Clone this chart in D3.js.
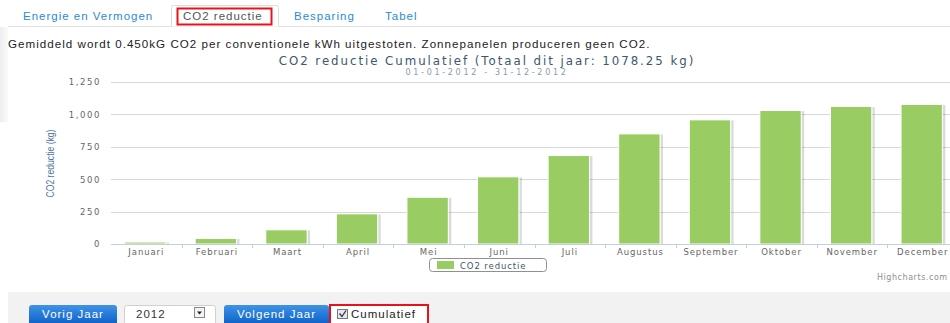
<!DOCTYPE html>
<html>
<head>
<meta charset="utf-8">
<script src="https://cdn.jsdelivr.net/npm/d3@7"></script>
<style>
  html, body { margin: 0; padding: 0; background: #fff; }
  svg { display: block; }
</style>
</head>
<body>
<svg id="page" width="950" height="323"></svg>
<script>
// Cumulative CO2 reduction per month, 2012 (kg)
const months = ["Januari", "Februari", "Maart", "April", "Mei", "Juni", "Juli",
                "Augustus", "September", "Oktober", "November", "December"];
const co2Cumulative = [19, 46, 113, 236, 364, 521, 685, 852, 960, 1032, 1063, 1078.25];
const yTicks = [0, 250, 500, 750, 1000, 1250];
const tabLabels = ["Energie en Vermogen", "CO2 reductie", "Besparing", "Tabel"];
const seriesName = "CO2 reductie";
const chartTitle = "CO2 reductie Cumulatief (Totaal dit jaar: 1078.25 kg)";
const chartSubtitle = "01-01-2012 - 31-12-2012";
const introText = "Gemiddeld wordt 0.450kG CO2 per conventionele kWh uitgestoten. Zonnepanelen produceren geen CO2.";
const selectedYear = "2012";

const svg = d3.select("#page");
const chartFont = "'DejaVu Sans', Verdana, sans-serif";
const uiFont = "'Liberation Sans', Arial, sans-serif";
const uiSpacing = 1.0;

// ---- defs: gradients for buttons and the panel edge
const defs = svg.append("defs");
const btnGrad = defs.append("linearGradient").attr("id", "btnGrad")
  .attr("x1", 0).attr("y1", 0).attr("x2", 0).attr("y2", 1);
btnGrad.append("stop").attr("offset", "0%").attr("stop-color", "#3f93e6");
btnGrad.append("stop").attr("offset", "100%").attr("stop-color", "#0b5fc6");
const sideGrad = defs.append("linearGradient").attr("id", "sideGrad")
  .attr("x1", 0).attr("y1", 0).attr("x2", 1).attr("y2", 0);
sideGrad.append("stop").attr("offset", "0%").attr("stop-color", "#ededed");
sideGrad.append("stop").attr("offset", "100%").attr("stop-color", "#fafafa");

// ---- tabs
const tabs = svg.append("g");
tabs.append("line").attr("x1", 8).attr("x2", 950).attr("y1", 26.5).attr("y2", 26.5)
  .attr("stroke", "#e2e2e2");
tabs.append("path")
  .attr("d", "M171.5,26.5 V7.5 Q171.5,5.5 173.5,5.5 H276.5 Q278.5,5.5 278.5,7.5 V26.5")
  .attr("fill", "#fff").attr("stroke", "#dcdcdc");
const tabX = [23, 183, 294, 385];
tabLabels.forEach((t, i) => {
  tabs.append("text").attr("x", tabX[i]).attr("y", 20)
    .attr("font-family", uiFont).attr("font-size", 11.5).attr("letter-spacing", uiSpacing)
    .attr("fill", i === 1 ? "#555" : "#2a8bd6").text(t);
});
tabs.append("rect").attr("x", 177.5).attr("y", 8.5).attr("width", 94).attr("height", 16)
  .attr("fill", "none").attr("stroke", "#e8121c").attr("stroke-width", 2);

// left panel edge
svg.append("rect").attr("x", 0).attr("y", 27).attr("width", 8).attr("height", 95)
  .attr("fill", "url(#sideGrad)");

// intro text
svg.append("text").attr("x", 8).attr("y", 48)
  .attr("font-family", uiFont).attr("font-size", 11.6).attr("letter-spacing", 1.02)
  .attr("fill", "#222").text(introText);

// ---- chart
const plot = { left: 111, right: 958, top: 81.7, bottom: 244 };

const x = d3.scaleBand().domain(months).range([plot.left, plot.right]).padding(0);
const y = d3.scaleLinear().domain([0, 1250]).range([plot.bottom, plot.top]);

const chart = svg.append("g");

// title + subtitle
chart.append("text").attr("x", 487).attr("y", 65).attr("text-anchor", "middle")
  .attr("font-family", chartFont).attr("font-size", 11.8).attr("letter-spacing", 1.95)
  .attr("fill", "#3e576f").text(chartTitle);
chart.append("text").attr("x", 487).attr("y", 75).attr("text-anchor", "middle")
  .attr("font-family", chartFont).attr("font-size", 8).attr("letter-spacing", 2.7)
  .attr("fill", "#8a9aab").text(chartSubtitle);

// grid lines
chart.append("g").selectAll("line").data(yTicks.filter(d => d > 0)).join("line")
  .attr("x1", plot.left).attr("x2", 950)
  .attr("y1", d => Math.round(y(d)) + 0.5).attr("y2", d => Math.round(y(d)) + 0.5)
  .attr("stroke", "#d8d8d8").attr("stroke-width", 1);

// y axis labels
const yAxis = d3.axisLeft(y).tickValues(yTicks).tickSize(0).tickPadding(0)
  .tickFormat(d3.format(","));
const yG = chart.append("g").attr("transform", `translate(${plot.left - 10},0)`).call(yAxis);
yG.select(".domain").remove();
yG.selectAll("text").attr("font-family", chartFont).attr("font-size", 8.5)
  .attr("letter-spacing", 1.6).attr("fill", "#666").attr("dy", "0.35em");

// y axis title (rotated)
chart.append("text")
  .attr("transform", `translate(54,${163.5}) rotate(-90)`)
  .attr("text-anchor", "middle")
  .attr("font-family", "'Liberation Sans Narrow', 'Liberation Sans', Arial, sans-serif")
  .attr("font-size", 11.5).attr("fill", "#4d759e")
  .attr("textLength", 68).attr("lengthAdjust", "spacingAndGlyphs")
  .text("CO2 reductie (kg)");

// bars with a soft shadow on the right
const barW = x.bandwidth() * 0.6;
const barX = d => x(d) + (x.bandwidth() - barW) / 2 - 1;
const bars = chart.append("g");
const rows = months.map((m, i) => ({ m, v: co2Cumulative[i] }));
bars.selectAll("rect.shadow").data(rows).join("rect").attr("class", "shadow")
  .attr("x", d => barX(d.m) + barW).attr("y", d => y(d.v) + 1)
  .attr("width", 2.5).attr("height", d => plot.bottom - y(d.v) - 1)
  .attr("fill", "#000").attr("opacity", 0.14);
bars.selectAll("rect.bar").data(rows).join("rect").attr("class", "bar")
  .attr("x", d => barX(d.m) + 0.5).attr("y", d => y(d.v) + 0.5)
  .attr("width", barW - 1).attr("height", d => plot.bottom - y(d.v) - 0.5)
  .attr("fill", "#99cc63").attr("stroke", "#fff").attr("stroke-width", 1);

// x axis
const xAxis = d3.axisBottom(x).tickSize(0).tickPadding(0);
const xG = chart.append("g").attr("transform", `translate(0,${plot.bottom})`).call(xAxis);
xG.select(".domain").remove();
xG.selectAll("text").attr("font-family", chartFont).attr("font-size", 8.5)
  .attr("letter-spacing", 0.9).attr("fill", "#666").attr("dy", "0").attr("y", 10.5);
chart.append("line").attr("x1", plot.left).attr("x2", 950)
  .attr("y1", plot.bottom + 0.5).attr("y2", plot.bottom + 0.5)
  .attr("stroke", "#c0d0e0").attr("stroke-width", 1);
chart.append("g").selectAll("line").data(months.slice(1)).join("line")
  .attr("x1", d => Math.round(x(d)) + 0.5).attr("x2", d => Math.round(x(d)) + 0.5)
  .attr("y1", plot.bottom).attr("y2", plot.bottom + 4)
  .attr("stroke", "#c0d0e0");

// legend
const legend = chart.append("g");
legend.append("rect").attr("x", 429.5).attr("y", 258.5).attr("width", 117).attr("height", 13)
  .attr("rx", 3).attr("fill", "#fff").attr("stroke", "#909090");
legend.append("rect").attr("x", 437).attr("y", 261).attr("width", 17).attr("height", 8)
  .attr("fill", "#99cc63");
legend.append("text").attr("x", 460).attr("y", 268.5)
  .attr("font-family", chartFont).attr("font-size", 8.5).attr("letter-spacing", 0.9)
  .attr("fill", "#3e576f").text(seriesName);

// credits
chart.append("text").attr("x", 877).attr("y", 280)
  .attr("font-family", chartFont).attr("font-size", 8).attr("letter-spacing", 0.55)
  .attr("fill", "#909090").text("Highcharts.com");

// ---- control bar
const ctrl = svg.append("g");
ctrl.append("rect").attr("x", 8).attr("y", 292).attr("width", 942).attr("height", 31)
  .attr("fill", "#f2f2f2");

function button(x0, x1, label) {
  ctrl.append("rect").attr("x", x0).attr("y", 305).attr("width", x1 - x0).attr("height", 20)
    .attr("rx", 3).attr("fill", "url(#btnGrad)");
  ctrl.append("text").attr("x", (x0 + x1) / 2).attr("y", 317.5).attr("text-anchor", "middle")
    .attr("font-family", uiFont).attr("font-size", 11.5).attr("letter-spacing", uiSpacing)
    .attr("fill", "#fff").text(label);
}
button(29, 117, "Vorig Jaar");
button(224, 329, "Volgend Jaar");

// year select
ctrl.append("rect").attr("x", 124.5).attr("y", 305.5).attr("width", 91).attr("height", 19)
  .attr("rx", 2).attr("fill", "#fff").attr("stroke", "#d0d0d0");
ctrl.append("text").attr("x", 136).attr("y", 317.5)
  .attr("font-family", uiFont).attr("font-size", 11.5).attr("letter-spacing", uiSpacing)
  .attr("fill", "#333").text(selectedYear);
ctrl.append("rect").attr("x", 194.5).attr("y", 307.5).attr("width", 10).attr("height", 10)
  .attr("fill", "#f4f4f4").attr("stroke", "#888");
ctrl.append("path").attr("d", "M197,311.5 h5 l-2.5,3 z").attr("fill", "#222");

// cumulative checkbox
ctrl.append("rect").attr("x", 330).attr("y", 305).attr("width", 98).attr("height", 20)
  .attr("fill", "#fff").attr("stroke", "#e8121c").attr("stroke-width", 2);
ctrl.append("rect").attr("x", 337.5).attr("y", 309.5).attr("width", 10).attr("height", 9)
  .attr("fill", "#e6e6f0").attr("stroke", "#777");
ctrl.append("path").attr("d", "M339.5,313.5 l2.5,3 l4,-6").attr("fill", "none")
  .attr("stroke", "#334").attr("stroke-width", 1.3);
ctrl.append("text").attr("x", 351).attr("y", 317.5)
  .attr("font-family", uiFont).attr("font-size", 11.5).attr("letter-spacing", uiSpacing)
  .attr("fill", "#222").text("Cumulatief");
</script>
</body>
</html>
